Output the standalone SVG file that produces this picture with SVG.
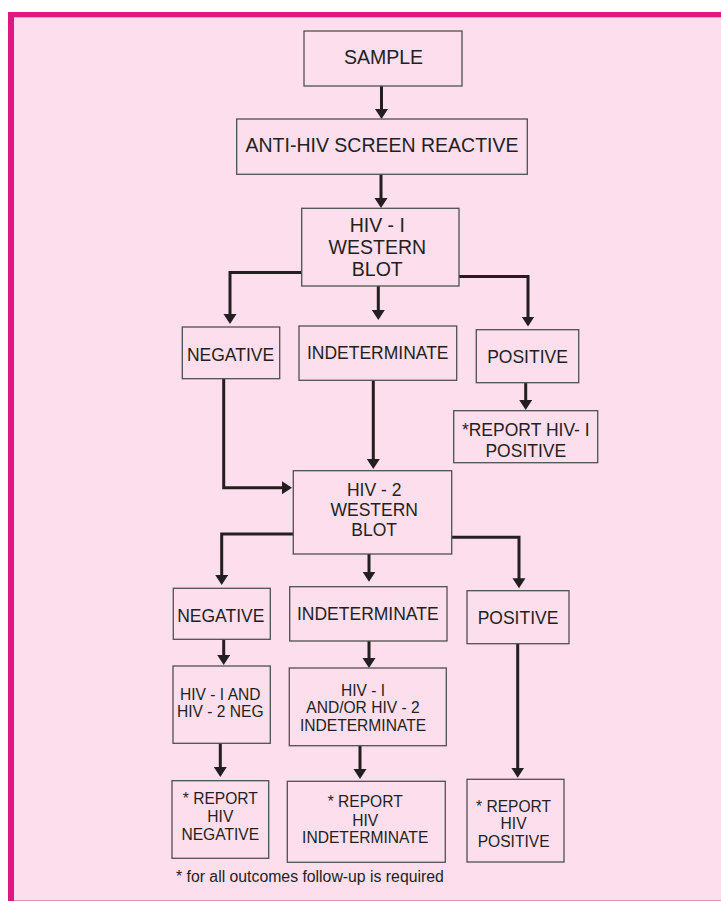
<svg xmlns="http://www.w3.org/2000/svg" width="721" height="902" viewBox="0 0 721 902">
<style>
.bx{fill:#FCDEEC;stroke:#505050;stroke-width:1.3}
.t{font-family:"Liberation Sans",Arial,sans-serif;fill:#231F20;text-anchor:middle}
.a{font-size:19.5px}
.b{font-size:17.5px}
.c{font-size:15.6px}
.ln{fill:none;stroke:#231F20;stroke-width:3}
</style>
<defs>
<marker id="ah" markerUnits="userSpaceOnUse" markerWidth="12" markerHeight="14" refX="7" refY="6.5" orient="auto">
<path d="M0,0 L10,6.5 L0,13 z" fill="#231F20"/>
</marker>
</defs>
<rect x="0" y="0" width="721" height="902" fill="#FFFFFF"/>
<rect x="8" y="12" width="713" height="889" fill="#FCDEEC"/>
<line x1="8" y1="900.5" x2="721" y2="900.5" stroke="#E58DBB" stroke-width="1"/>
<rect x="8" y="12" width="6" height="889" fill="#E0177F"/>
<rect x="8" y="12" width="713" height="5.3" fill="#E0177F"/>

<g id="connectors">
<path class="ln" marker-end="url(#ah)" d="M381.5,86 V116"/>
<path class="ln" marker-end="url(#ah)" d="M381,174 V205"/>
<path class="ln" marker-end="url(#ah)" d="M302,272.5 H230 V321"/>
<path class="ln" marker-end="url(#ah)" d="M378.3,286 V317"/>
<path class="ln" marker-end="url(#ah)" d="M459,276.5 H528 V323.5"/>
<path class="ln" marker-end="url(#ah)" d="M525.7,383 V407"/>
<path class="ln" marker-end="url(#ah)" d="M223.7,379 V487.7 H289"/>
<path class="ln" marker-end="url(#ah)" d="M373.3,380 V466"/>
<path class="ln" marker-end="url(#ah)" d="M293,534 H221.7 V582"/>
<path class="ln" marker-end="url(#ah)" d="M369,554 V578.7"/>
<path class="ln" marker-end="url(#ah)" d="M451.7,537.3 H519 V585.3"/>
<path class="ln" marker-end="url(#ah)" d="M223.7,639.3 V662"/>
<path class="ln" marker-end="url(#ah)" d="M220.3,743.3 V774"/>
<path class="ln" marker-end="url(#ah)" d="M369,641 V665"/>
<path class="ln" marker-end="url(#ah)" d="M360,745.7 V776"/>
<path class="ln" marker-end="url(#ah)" d="M517.7,643.7 V774.7"/>
</g>

<g id="sample"><rect class="bx" x="304" y="31" width="158" height="55"/>
<text class="t a" x="383.5" y="64">SAMPLE</text></g>

<g id="anti-hiv"><rect class="bx" x="236.7" y="119" width="290.6" height="55.3"/>
<text class="t a" x="382" y="152.3">ANTI-HIV SCREEN REACTIVE</text></g>

<g id="hiv1-wb"><rect class="bx" x="301.7" y="208.3" width="157.3" height="77.7"/>
<text class="t a" x="377.3" y="232.3">HIV - I</text>
<text class="t a" x="377.3" y="254">WESTERN</text>
<text class="t a" x="377.3" y="275.7">BLOT</text></g>

<g id="neg1"><rect class="bx" x="182.3" y="327" width="97.4" height="51.7"/>
<text class="t b" x="230.5" y="360.7">NEGATIVE</text></g>

<g id="ind1"><rect class="bx" x="299" y="326" width="157.7" height="54.3"/>
<text class="t b" x="377.7" y="359.3">INDETERMINATE</text></g>

<g id="pos1"><rect class="bx" x="476.3" y="329.7" width="102.4" height="53"/>
<text class="t b" x="527.5" y="363.3">POSITIVE</text></g>

<g id="rep1"><rect class="bx" x="453.7" y="410.7" width="144" height="52"/>
<text class="t b" x="525.8" y="436">*REPORT HIV- I</text>
<text class="t b" x="525.8" y="456.7">POSITIVE</text></g>

<g id="hiv2-wb"><rect class="bx" x="293.3" y="470.7" width="158.4" height="83.3"/>
<text class="t b" x="374.2" y="495.7">HIV - 2</text>
<text class="t b" x="374.2" y="515.7">WESTERN</text>
<text class="t b" x="374.2" y="536">BLOT</text></g>

<g id="neg2"><rect class="bx" x="173.3" y="588.3" width="97" height="51"/>
<text class="t b" x="220.8" y="621.7">NEGATIVE</text></g>

<g id="ind2"><rect class="bx" x="289.7" y="586.7" width="157.3" height="54.3"/>
<text class="t b" x="367.8" y="620">INDETERMINATE</text></g>

<g id="pos2"><rect class="bx" x="467" y="590.7" width="102" height="53"/>
<text class="t b" x="518" y="624">POSITIVE</text></g>

<g id="both-neg"><rect class="bx" x="173" y="666" width="97.3" height="77.3"/>
<text class="t c" x="220.3" y="700">HIV - I AND</text>
<text class="t c" x="220.3" y="717.3">HIV - 2 NEG</text></g>

<g id="andor-ind"><rect class="bx" x="289.3" y="668" width="157" height="77.7"/>
<text class="t c" x="363" y="696">HIV - I</text>
<text class="t c" x="363" y="713.3">AND/OR HIV - 2</text>
<text class="t c" x="363" y="731">INDETERMINATE</text></g>

<g id="rep-neg"><rect class="bx" x="172" y="780.7" width="96.7" height="77.6"/>
<text class="t c" x="220.3" y="804.3">* REPORT</text>
<text class="t c" x="220.3" y="822.3">HIV</text>
<text class="t c" x="220.3" y="840">NEGATIVE</text></g>

<g id="rep-ind"><rect class="bx" x="287.3" y="781.3" width="158" height="81"/>
<text class="t c" x="365.2" y="807.3">* REPORT</text>
<text class="t c" x="365.2" y="825.7">HIV</text>
<text class="t c" x="365.2" y="843.3">INDETERMINATE</text></g>

<g id="rep-pos"><rect class="bx" x="467" y="779.3" width="97" height="82.7"/>
<text class="t c" x="513.6" y="811.7">* REPORT</text>
<text class="t c" x="513.6" y="829.3">HIV</text>
<text class="t c" x="513.6" y="847.3">POSITIVE</text></g>

<text class="t" x="176" y="882.3" style="font-size:15.8px;text-anchor:start">* for all outcomes follow-up is required</text>
</svg>
